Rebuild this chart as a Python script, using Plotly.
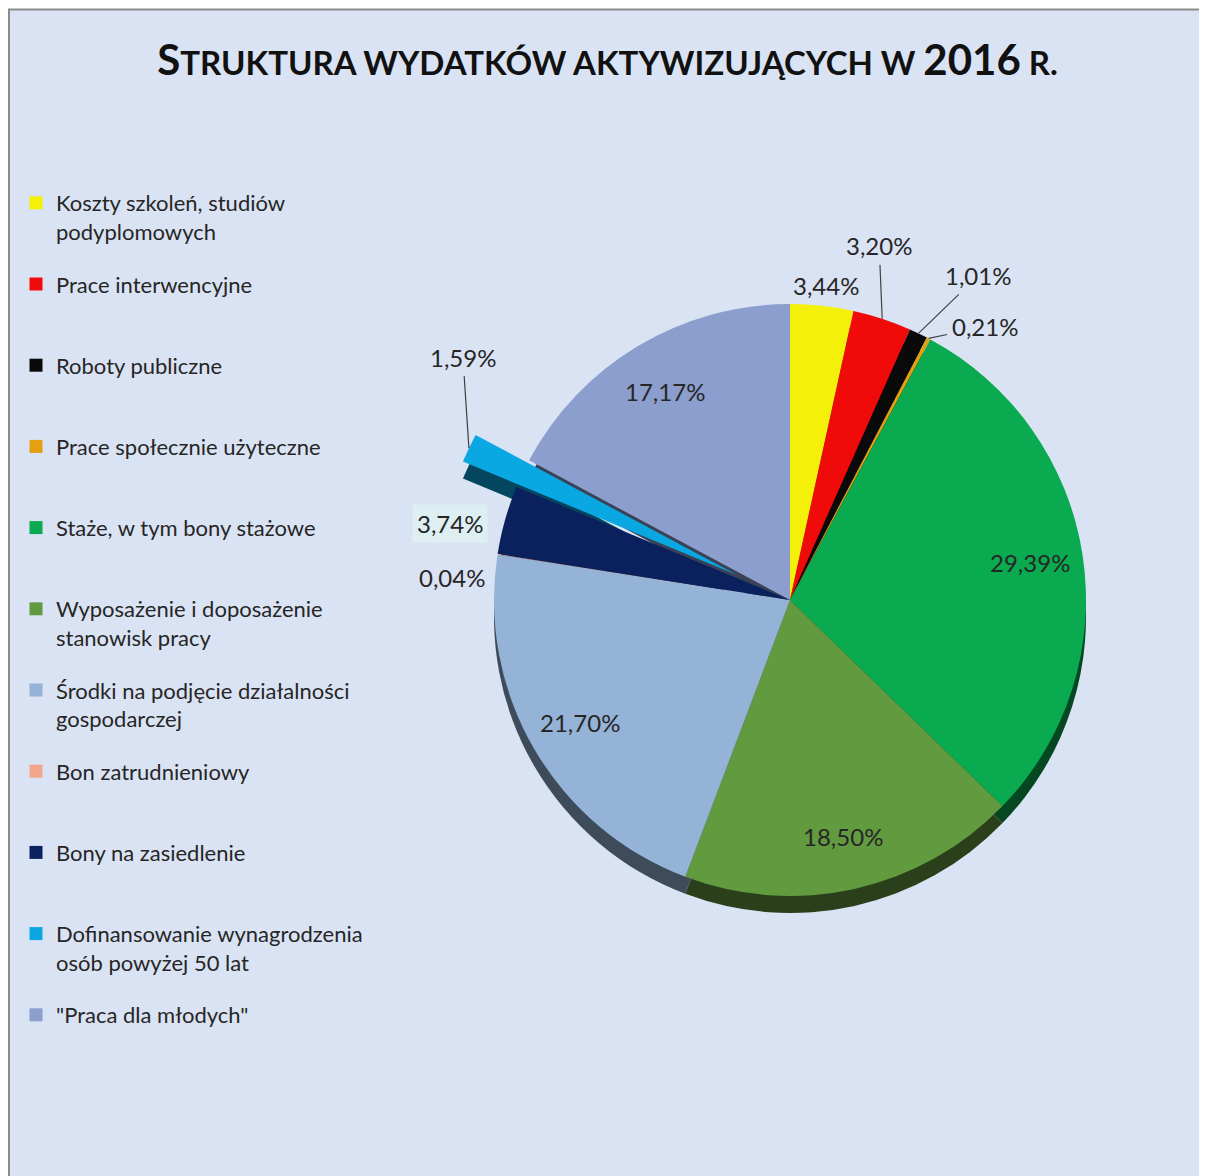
import math
import plotly.graph_objects as go

# ---- data ----
categories = [
    "Koszty szkoleń, studiów<br>podyplomowych",
    "Prace interwencyjne",
    "Roboty publiczne",
    "Prace społecznie użyteczne",
    "Staże, w tym bony stażowe",
    "Wyposażenie i doposażenie<br>stanowisk pracy",
    "Środki na podjęcie działalności<br>gospodarczej",
    "Bon zatrudnieniowy",
    "Bony na zasiedlenie",
    "Dofinansowanie wynagrodzenia<br>osób powyżej 50 lat",
    "\"Praca dla młodych\"",
]
values = [3.44, 3.20, 1.01, 0.21, 29.39, 18.50, 21.70, 0.04, 3.74, 1.59, 17.17]
colors = ["#F5F00A", "#F00A0A", "#0A0A0A", "#E3A010", "#0AAA50", "#629A40",
          "#95B3D7", "#F2A58A", "#0A215E", "#0AA8E3", "#8B9ECD"]
inside = [False, False, False, False, True, True, True, False, False, False, True]
pulls = [0, 0, 0, 0, 0, 0, 0, 0, 0, 0.2, 0]

# label placement style for outside labels: (dx, dy) pixel offset from slice edge,
# whether a leader line is drawn, and label background
label_style = {
    0: dict(off=(4, -20), line=False),
    1: dict(off=(-3, -73), line=True),
    2: dict(off=(60, -58), line=True),
    3: dict(off=(56, -12), line=True),
    7: dict(off=(-46, 23), line=False),
    8: dict(off=(-55, 4), line=False, bg="#DDEFF2"),
    9: dict(off=(-6, -91), line=True),
}

title_html = ("<b><span style='font-size:42px'>S</span>TRUKTURA WYDATKÓW "
              "AKTYWIZUJĄCYCH W <span style='font-size:42px'>2016</span> R.</b>")

W, H = 1199, 1168
BG = "#DAE3F3"
TXT = "#262626"
LBL_FONT = dict(family="Lato", size=24, color=TXT)


def darker(hexc, f=0.42):
    h = hexc.lstrip("#")
    r, g, b = (int(h[i:i + 2], 16) for i in (0, 2, 4))
    return "#%02x%02x%02x" % (int(r * f), int(g * f), int(b * f))


# pie geometry (figure pixels)
pcx, pcy, rad = 782, 592, 296
cx, cy = pcx / W, 1 - pcy / H
half_w = rad * 1.2 / W
half_h = rad * 1.2 / H
depth = 17 / H

fig = go.Figure()

# side (depth) of the pie
fig.add_trace(go.Pie(
    values=values, labels=categories, sort=False, direction="clockwise", rotation=0,
    pull=pulls, marker=dict(colors=[darker(c) for c in colors], line=dict(width=0)),
    textinfo="none", hoverinfo="skip", showlegend=False,
    domain=dict(x=[cx - half_w, cx + half_w], y=[cy - half_h - depth, cy + half_h - depth]),
))

# top face of the pie
fig.add_trace(go.Pie(
    values=values, labels=categories, sort=False, direction="clockwise", rotation=0,
    pull=pulls, marker=dict(colors=colors, line=dict(width=0)),
    textinfo="none", showlegend=False,
    domain=dict(x=[cx - half_w, cx + half_w], y=[cy - half_h, cy + half_h]),
))

# data labels positioned from each slice's mid-angle (derived from the values)
total = sum(values)
annotations = []
cum = 0.0
for i, v in enumerate(values):
    mid = (cum + v / 2) / total * 2 * math.pi
    cum += v
    txt = f"{v:.2f}%".replace(".", ",")
    if inside[i]:
        r_lab = 0.82 * rad
        px = pcx + r_lab * math.sin(mid)
        py = pcy - r_lab * math.cos(mid)
        annotations.append(dict(
            x=px / W, y=1 - py / H, xref="paper", yref="paper", showarrow=False,
            xanchor="center", yanchor="middle", text=txt, font=LBL_FONT,
        ))
        continue
    r_edge = rad * (1 + pulls[i])
    ex = pcx + r_edge * math.sin(mid)
    ey = pcy - r_edge * math.cos(mid)
    st = label_style[i]
    dx, dy = st["off"]
    common = dict(xref="paper", yref="paper", text=txt, font=LBL_FONT,
                  xanchor="center", yanchor="middle",
                  bgcolor=st.get("bg", "rgba(0,0,0,0)"), borderpad=4)
    if st["line"]:
        annotations.append(dict(
            x=ex / W, y=1 - ey / H, showarrow=True, ax=dx, ay=dy,
            arrowhead=0, arrowwidth=1.2, arrowcolor="#404040", standoff=0, **common))
    else:
        annotations.append(dict(
            x=(ex + dx) / W, y=1 - (ey + dy) / H, showarrow=False, **common))

# legend entries
for i, (name, col) in enumerate(zip(categories, colors)):
    label = name if "<br>" in name else name + "<br> "
    fig.add_trace(go.Scatter(
        x=[None], y=[None], mode="markers", name=label,
        marker=dict(symbol="square", size=13, color=col),
        legendgroup=f"g{i}", showlegend=True,
    ))

fig.update_layout(
    width=W, height=H,
    margin=dict(l=0, r=0, t=0, b=0),
    paper_bgcolor="white", plot_bgcolor="rgba(0,0,0,0)",
    xaxis=dict(visible=False), yaxis=dict(visible=False),
    title=dict(text=title_html, x=0.5, xanchor="center", y=1 - 55 / H, yanchor="middle",
               font=dict(family="Lato", size=33, color="#111111")),
    legend=dict(x=8 / W, xanchor="left", y=1 - 174 / H, yanchor="top",
                valign="top", tracegroupgap=21, bgcolor="rgba(0,0,0,0)",
                font=dict(family="Lato", size=22, color=TXT)),
    annotations=annotations,
    shapes=[dict(type="rect", xref="paper", yref="paper",
                 x0=1 / W, x1=1.02, y0=-0.02, y1=1 - 1.5 / H,
                 fillcolor=BG, line=dict(color="#8C8C8C", width=2), layer="below")],
)

fig.write_html("out.html")
